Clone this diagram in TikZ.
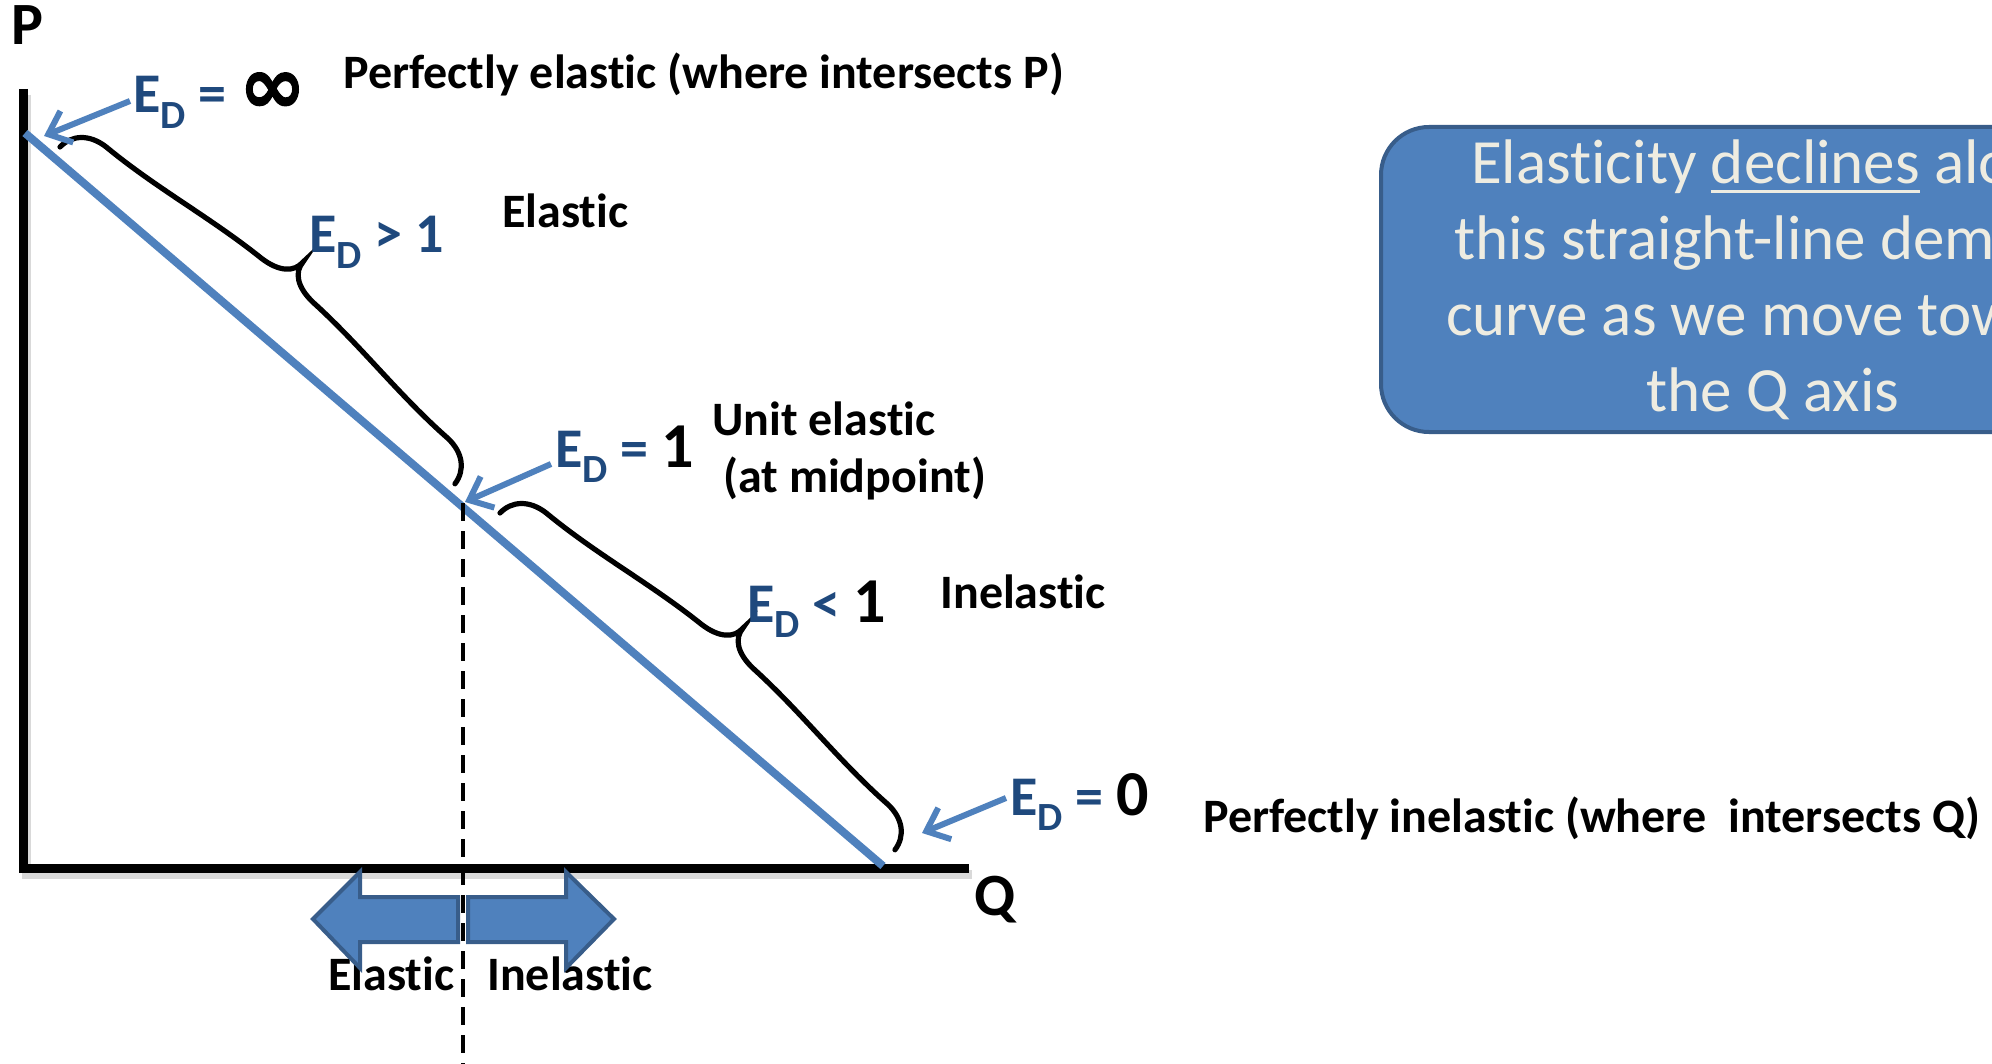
\documentclass[tikz,border=0pt]{standalone}
\usepackage{fontspec}
\setmainfont{Carlito}[Ligatures={NoCommon}]
\newfontfamily\inffont{DejaVu Sans}[UprightFont={* Bold}, FakeBold=1.4]
\usetikzlibrary{arrows.meta,calc}
\definecolor{demblue}{HTML}{4F81BD}
\definecolor{edblue}{HTML}{1F497D}
\definecolor{boxedge}{HTML}{385D8A}
\definecolor{boxtext}{HTML}{EEECE1}
\newcommand\Dsub{\raisebox{-0.27em}{\fontsize{20}{22}\selectfont D}}
\newcommand\bignum[1]{{\color{black}\fontsize{32}{34}\selectfont #1}}
\newcommand\myul[1]{\setbox0\hbox{#1}\rlap{\rule[-5pt]{\wd0}{1.6pt}}\box0}
\tikzset{
  lbl/.style={font=\bfseries\fontsize{24}{28}\selectfont, inner sep=0pt, anchor=base west},
  axlbl/.style={font=\bfseries\fontsize{30}{34}\selectfont, inner sep=0pt, anchor=base west},
  edl/.style={font=\bfseries\fontsize{28}{32}\selectfont, text=edblue, inner sep=0pt, anchor=base west},
  ptr/.style={draw=demblue, line width=3pt, -{Straight Barb[length=10pt,width=17pt]}},
  axisline/.style={line width=4.5pt, line join=miter},
  shadowline/.style={line width=4.5pt, line join=miter, black!15},
  demand/.style={draw=demblue, line width=4pt},
  dashline/.style={line width=2pt, dash pattern=on 9pt off 5pt},
  brc/.style={line width=2.6pt, line cap=round},
  bigarrow/.style={fill=demblue, draw=boxedge, line width=2pt, line join=miter},
  msgbox/.style={draw=boxedge, fill=demblue, line width=2pt, rounded corners=24pt,
    minimum width=392pt, minimum height=152.5pt, text=boxtext, align=center,
    font=\fontsize{31.5}{38}\selectfont, inner sep=0pt},
  pics/edbrace/.style={code={
    \draw[brc] (0,0) .. controls (1,17) and (14,29) .. (35,30)
      .. controls (100,31) and (160,44) .. (225,46)
      .. controls (248,47) and (259.5,57) .. (259.5,70)
      .. controls (259.5,57) and (271,47) .. (294,46)
      .. controls (359,44) and (419,31) .. (484,30)
      .. controls (505,29) and (518,17) .. (519,0);
  }}
}
\begin{document}
\begin{tikzpicture}[x=0.5pt,y=-0.5pt]
\useasboundingbox (0,0) rectangle (1992,1064);
\fill[white] (0,0) rectangle (1992,1064);
\begin{scope}
\clip (0,0) rectangle (1992,1064);

% message box
\node[msgbox] (msg) at (1773,279.5) {Elasticity \myul{declines}\ along\\this straight-line demand\\curve as we move toward\\the Q axis};

% axes
\coordinate (ytop) at (23,89);
\coordinate (origin) at (23,868);
\coordinate (xend) at (969,868);
\draw[shadowline] ($(ytop)+(3,6)$) -- ($(origin)+(3,6)$) -- ($(xend)+(3,6)$);
\draw[axisline] (ytop) -- (origin) -- (xend);
\node[axlbl] (plabel) at (11,45) {P};
\node[axlbl] (qlabel) at (974,915) {Q};

% demand line
\coordinate (dtop) at (25,133);
\coordinate (dbot) at (883,866);
\draw[demand] (dtop) -- (dbot);

% dashed midpoint line
\coordinate (mid) at (463,503);
\coordinate (dashend) at (463,1064);
\draw[dashline] (mid) -- (dashend);

% braces
\begin{scope}[shift={(60,147)}, x={(0.3805pt,-0.3245pt)}, y={(0.3245pt,0.3805pt)}]
  \pic {edbrace};
\end{scope}
\begin{scope}[shift={(500,513)}, x={(0.3805pt,-0.3245pt)}, y={(0.3245pt,0.3805pt)}]
  \pic {edbrace};
\end{scope}

% labels
\node[lbl] (perfel) at (343,89) {Perfectly elastic (where intersects P)};
\node[lbl] (elas) at (502,228) {Elastic};
\node[lbl] (unit) at (712,435) {Unit elastic};
\node[lbl] (midp) at (723,492) {(at midpoint)};
\node[lbl] (inel) at (940,608) {Inelastic};
\node[lbl] (perfin) at (1203,832) {Perfectly inelastic (where\ \ intersects Q)};

% elasticity values
\node[edl] (edinf) at (133,113) {E\Dsub{} = {\color{black}\inffont\fontsize{40}{42}\selectfont ∞}};
\node[edl] (edgt) at (309,253) {E\Dsub{} > 1};
\node[edl] (edone) at (555,467) {E\Dsub{} = \bignum{1}};
\node[edl] (edlt) at (747,622) {E\Dsub{} < \bignum{1}};
\node[edl] (edzero) at (1010,815) {E\Dsub{} = \bignum{0}};

\coordinate (tipinf) at (44,136);
\coordinate (tipone) at (465,502);
\coordinate (tipzero) at (922,833);
\draw[ptr] ($(edinf.base west)+(-3,-12)$) -- (tipinf);
\draw[ptr] ($(edone.base west)+(-4,-3)$) -- (tipone);
\draw[ptr] ($(edzero.base west)+(-4,-17)$) -- (tipzero);

% bottom labels and arrows
\node[lbl] (belas) at (328,990) {Elastic};
\node[lbl] (binel) at (487,990) {Inelastic};
\draw[bigarrow] (313,919) -- (360,872) -- (360,897) -- (458,897) -- (458,942) -- (360,942) -- (360,968) -- cycle;
\draw[bigarrow] (614,919) -- (566,872) -- (566,897) -- (468,897) -- (468,942) -- (566,942) -- (566,968) -- cycle;
\end{scope}
\end{tikzpicture}
\end{document}
